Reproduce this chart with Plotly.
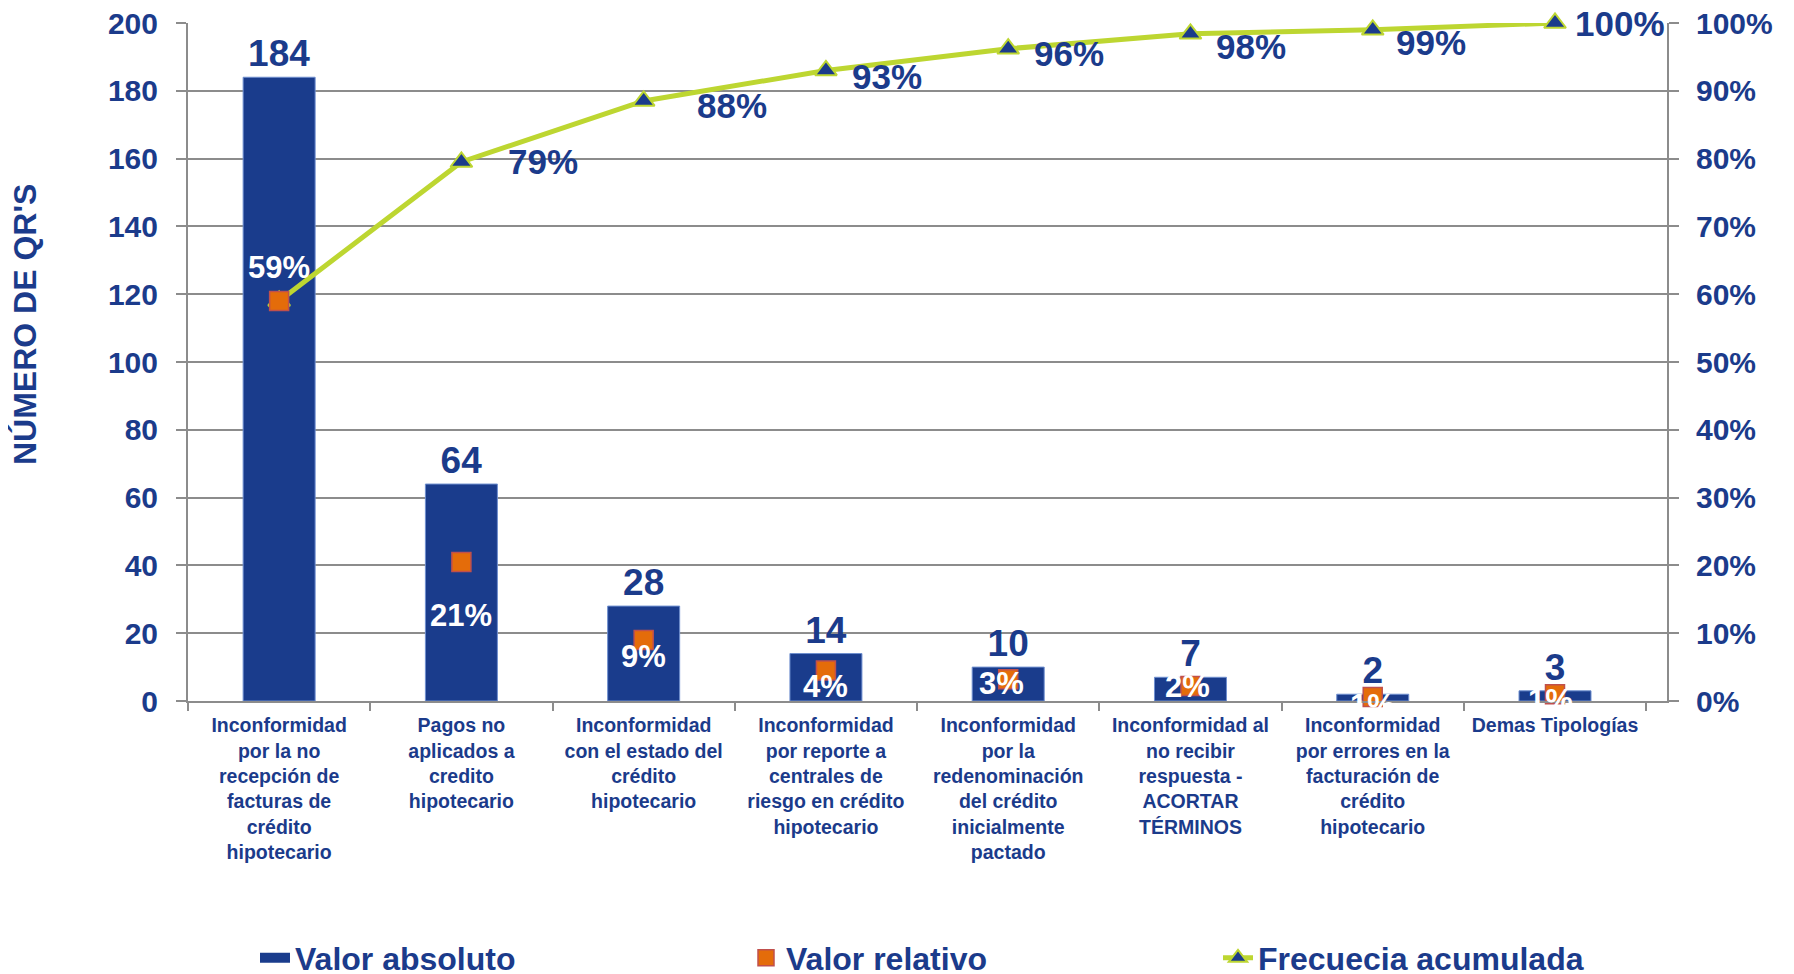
import plotly.graph_objects as go

# ---------------- data ----------------
categorias = [
    "Inconformidad<br>por la no<br>recepción de<br>facturas de<br>crédito<br>hipotecario",
    "Pagos no<br>aplicados a<br>credito<br>hipotecario",
    "Inconformidad<br>con el estado del<br>crédito<br>hipotecario",
    "Inconformidad<br>por reporte a<br>centrales de<br>riesgo en crédito<br>hipotecario",
    "Inconformidad<br>por la<br>redenominación<br>del crédito<br>inicialmente<br>pactado",
    "Inconformidad al<br>no recibir<br>respuesta -<br>ACORTAR<br>TÉRMINOS",
    "Inconformidad<br>por errores en la<br>facturación de<br>crédito<br>hipotecario",
    "Demas Tipologías",
]
valor_absoluto = [184, 64, 28, 14, 10, 7, 2, 3]
valor_relativo = [0.59, 0.205, 0.09, 0.045, 0.032, 0.022, 0.006, 0.01]
etiquetas_relativo = ["59%", "21%", "9%", "4%", "3%", "2%", "1%", "1%"]
frecuencia_acumulada = [0.59, 0.795, 0.885, 0.93, 0.962, 0.984, 0.99, 1.0]
etiquetas_acumulada = ["", "79%", "88%", "93%", "96%", "98%", "99%", "100%"]
ticks_izq = [0, 20, 40, 60, 80, 100, 120, 140, 160, 180, 200]
ticks_der = [0, 0.1, 0.2, 0.3, 0.4, 0.5, 0.6, 0.7, 0.8, 0.9, 1.0]

# ---------------- style ----------------
FONT = "Liberation Sans, Arial, sans-serif"
AZUL = "#1B3B8B"
BARRA = "#1A3C8C"
VERDE = "#BDD631"
NARANJA = "#E46C0A"
BORDE_NAR = "#C0504D"
GRIS = "#8C8C8C"

rel_xshift = [0, 0, 0, 0, -7, -3, 0, -5]
rel_yshift = [33, -53, -17, -16, -4, 0, -9, -6]
acu_xshift = [0, 45, 51, 24, 24, 24, 21, 18]
acu_yshift = [0, 0, -5, -6, -5, -13, -13, 0]

# the page body adds an 8px offset; figure coordinates are shifted by it
W, H = 1786, 1000
PLOT_L, PLOT_T, PLOT_R, PLOT_B = 180, 15, 1659, 693

fig = go.Figure()

fig.add_trace(go.Bar(
    x=categorias, y=valor_absoluto, name="Valor absoluto",
    marker=dict(color=BARRA, line=dict(color="#6F8FCF", width=1)),
    width=0.395,
    text=[str(v) for v in valor_absoluto], textposition="outside",
    textfont=dict(family=FONT, size=37, color=AZUL, weight="bold"),
    constraintext="none", cliponaxis=False,
    showlegend=False,
))

# legend sample for the bars (wide rectangle, as in the original legend)
fig.add_trace(go.Scatter(
    x=[None], y=[None], mode="lines", name="Valor absoluto",
    line=dict(color=BARRA, width=17), legend="legend",
))

fig.add_trace(go.Scatter(
    x=categorias, y=frecuencia_acumulada, name="Frecuecia acumulada",
    yaxis="y2", mode="lines+markers",
    line=dict(color=VERDE, width=5),
    marker=dict(symbol="triangle-up", size=19, color=AZUL,
                line=dict(color=VERDE, width=2)),
    cliponaxis=False, legend="legend3",
))

fig.add_trace(go.Scatter(
    x=categorias, y=valor_relativo, name="Valor relativo",
    yaxis="y2", mode="markers",
    marker=dict(symbol="square", size=19, color=NARANJA,
                line=dict(color=BORDE_NAR, width=1.5)),
    cliponaxis=False, legend="legend2",
))

annotations = []
for i, c in enumerate(categorias):
    annotations.append(dict(
        x=c, y=valor_relativo[i], xref="x", yref="y2",
        text=etiquetas_relativo[i], showarrow=False,
        xshift=rel_xshift[i], yshift=rel_yshift[i],
        font=dict(family=FONT, size=31, color="white", weight="bold"),
    ))
    if etiquetas_acumulada[i]:
        annotations.append(dict(
            x=c, y=frecuencia_acumulada[i], xref="x", yref="y2",
            text=etiquetas_acumulada[i], showarrow=False,
            xanchor="left", yanchor="middle",
            xshift=acu_xshift[i], yshift=acu_yshift[i],
            font=dict(family=FONT, size=35, color=AZUL, weight="bold"),
        ))

pw = PLOT_R - PLOT_L
ph = PLOT_B - PLOT_T

annotations.append(dict(
    x=(17 - PLOT_L) / pw, y=(PLOT_B - 317) / ph, xref="paper", yref="paper",
    xanchor="center", yanchor="middle",
    text="NÚMERO DE QR'S", textangle=-90, showarrow=False,
    font=dict(family=FONT, size=32, color=AZUL, weight="bold"),
))

leg_font = dict(family=FONT, size=32, color=AZUL, weight="bold")
LEG_Y = (PLOT_B - 950) / ph

fig.update_layout(
    width=W, height=H,
    margin=dict(l=PLOT_L, r=W - PLOT_R, t=PLOT_T, b=H - PLOT_B),
    paper_bgcolor="white", plot_bgcolor="white",
    font=dict(family=FONT, color=AZUL),
    showlegend=True,
    xaxis=dict(
        type="category", tickson="boundaries", ticks="outside", ticklen=8,
        tickcolor=GRIS, tickwidth=2, showgrid=False,
        showline=True, linecolor=GRIS, linewidth=2, tickangle=0,
        ticklabelstandoff=6, automargin=False,
        tickfont=dict(family=FONT, size=19.5, color=AZUL, weight="bold"),
    ),
    yaxis=dict(
        range=[0, 200], tickvals=ticks_izq, ticks="outside", ticklen=10,
        tickcolor=GRIS, tickwidth=2, showgrid=True, gridcolor=GRIS, gridwidth=2,
        showline=True, linecolor=GRIS, linewidth=2, zeroline=False,
        ticklabelstandoff=12, automargin=False, ticklabeloverflow="allow",
        tickfont=dict(family=FONT, size=30, color=AZUL, weight="bold"),
    ),
    yaxis2=dict(
        range=[0, 1], tickvals=ticks_der, tickformat=".0%", overlaying="y",
        side="right", ticks="outside", ticklen=10, tickcolor=GRIS, tickwidth=2,
        showgrid=False, showline=True, linecolor=GRIS, linewidth=2,
        zeroline=False, ticklabelstandoff=11, automargin=False,
        ticklabeloverflow="allow",
        tickfont=dict(family=FONT, size=30, color=AZUL, weight="bold"),
    ),
    legend=dict(x=(247 - PLOT_L) / pw, y=LEG_Y,
                xanchor="left", yanchor="middle",
                font=leg_font, bgcolor="rgba(0,0,0,0)"),
    legend2=dict(x=(738 - PLOT_L) / pw, y=LEG_Y,
                 xanchor="left", yanchor="middle",
                 font=leg_font, bgcolor="rgba(0,0,0,0)"),
    legend3=dict(x=(1210 - PLOT_L) / pw, y=LEG_Y,
                 xanchor="left", yanchor="middle",
                 font=leg_font, bgcolor="rgba(0,0,0,0)"),
    annotations=annotations,
)

fig.write_html("out.html")
